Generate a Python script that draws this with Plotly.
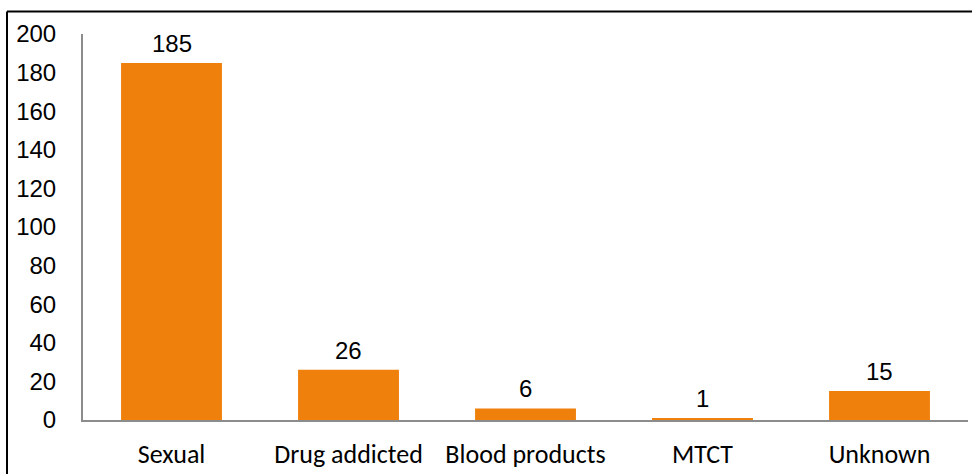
import plotly.graph_objects as go

categories = ["Sexual", "Drug addicted", "Blood products", "MTCT", "Unknown"]
values = [185, 26, 6, 1, 15]
y_ticks = [0, 20, 40, 60, 80, 100, 120, 140, 160, 180, 200]

W, H = 972, 474
L, R, T, B = 83, 4, 34, 47
pw, ph = W - L - R, H - T - B

fig = go.Figure()
fig.add_trace(go.Bar(
    x=categories, y=values,
    marker=dict(color="#F0800C", line=dict(width=0)),
    width=0.57,
    hoverinfo="x+y",
))

for c, v in zip(categories, values):
    fig.add_annotation(x=c, y=v, text=str(v), showarrow=False,
                       yanchor="bottom", yshift=4,
                       font=dict(family="Liberation Sans, Arial, sans-serif", size=24, color="#000"))

bx = (7 - L) / pw
by = 1 + (T - 11) / ph
fig.add_shape(type="line", xref="paper", yref="paper", x0=bx, x1=bx, y0=by, y1=-0.3,
              line=dict(color="black", width=2))
fig.add_shape(type="line", xref="paper", yref="paper", x0=bx, x1=1.2, y0=by, y1=by,
              line=dict(color="black", width=2))

fig.update_layout(
    width=W, height=H,
    margin=dict(l=L, r=R, t=T, b=B, pad=0),
    paper_bgcolor="white", plot_bgcolor="white",
    showlegend=False,
    xaxis=dict(showline=True, linecolor="#8C8C8C", linewidth=2, ticks="",
               showgrid=False, zeroline=False,
               tickfont=dict(family="Calibri, Carlito, Lato, sans-serif", size=26, color="#000"),
               ticklabelstandoff=10),
    yaxis=dict(range=[0, 200], tickvals=y_ticks, showline=True, linecolor="#8C8C8C",
               linewidth=2, ticks="", showgrid=False, zeroline=False,
               tickfont=dict(family="Liberation Sans, Arial, sans-serif", size=24, color="#000"),
               ticklabelstandoff=20),
)

fig.write_html("out.html", config={"displayModeBar": False},
               post_script="document.body.style.margin='0px';document.body.style.overflow='hidden';")
